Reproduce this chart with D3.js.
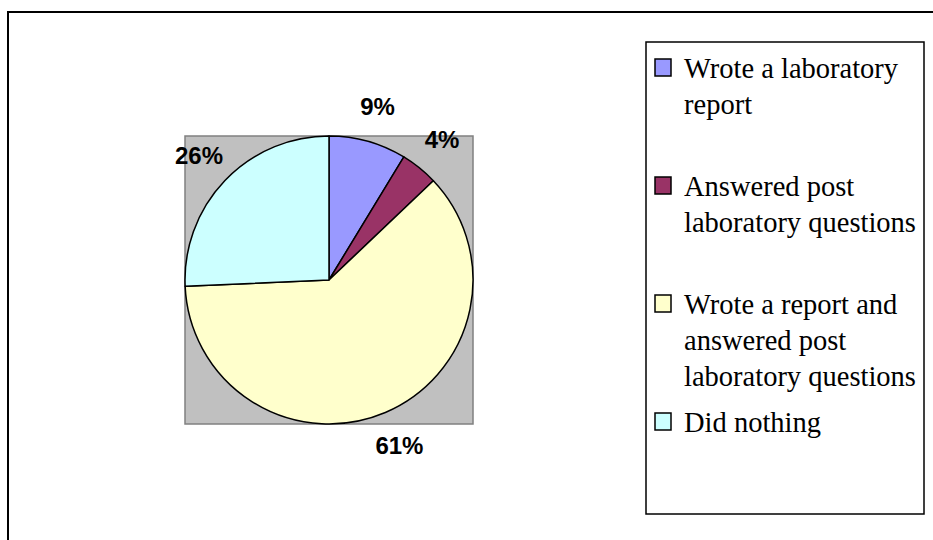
<!DOCTYPE html>
<html>
<head>
<meta charset="utf-8">
<script src="https://cdn.jsdelivr.net/npm/d3@7/dist/d3.min.js"></script>
<style>
  body { margin: 0; background: #fff; }
</style>
</head>
<body>
<div id="chart"></div>
<script>
// categories, values and colours
var categories = ['Wrote a laboratory report', 'Answered post laboratory questions',
    'Wrote a report and answered post laboratory questions', 'Did nothing'];
var legendLines = [
    ['Wrote a laboratory', 'report'],
    ['Answered post', 'laboratory questions'],
    ['Wrote a report and', 'answered post', 'laboratory questions'],
    ['Did nothing']
];
var values = [8.7, 4.2, 61.4, 25.7];
var colors = ['#9999FF', '#993366', '#FFFFCC', '#CCFFFF'];

var width = 933, height = 540;
var cx = 329, cy = 280, radius = 144;

var svg = d3.select('#chart')
    .append('svg')
    .attr('width', width)
    .attr('height', height);

// chart border (runs off the right and bottom edges)
svg.append('rect')
    .attr('x', 8)
    .attr('y', 12)
    .attr('width', 940)
    .attr('height', 560)
    .attr('fill', '#fff')
    .attr('stroke', '#000')
    .attr('stroke-width', 2);

// grey plot area behind the pie
svg.append('rect')
    .attr('x', cx - radius)
    .attr('y', cy - radius)
    .attr('width', radius * 2)
    .attr('height', radius * 2)
    .attr('fill', '#C0C0C0')
    .attr('stroke', '#808080')
    .attr('stroke-width', 1.5);

var total = d3.sum(values);
var pie = d3.pie().sort(null);
var arcs = pie(values);

var arc = d3.arc().innerRadius(0).outerRadius(radius);
var labelArc = d3.arc().innerRadius(180).outerRadius(180);

var g = svg.append('g')
    .attr('transform', 'translate(' + cx + ',' + cy + ')');

g.selectAll('path')
    .data(arcs)
    .enter()
    .append('path')
    .attr('d', arc)
    .attr('fill', function (d, i) { return colors[i]; })
    .attr('stroke', '#000')
    .attr('stroke-width', 1.5)
    .attr('stroke-linejoin', 'round');

g.selectAll('text')
    .data(arcs)
    .enter()
    .append('text')
    .attr('x', function (d) { return labelArc.centroid(d)[0]; })
    .attr('y', function (d) { return labelArc.centroid(d)[1]; })
    .attr('text-anchor', 'middle')
    .attr('dy', '0.35em')
    .style('font-family', '"Liberation Sans", Arial, sans-serif')
    .style('font-weight', 'bold')
    .style('font-size', '24px')
    .text(function (d) { return Math.round(d.value / total * 100) + '%'; });

// legend
svg.append('rect')
    .attr('x', 646)
    .attr('y', 42)
    .attr('width', 278)
    .attr('height', 472)
    .attr('fill', '#fff')
    .attr('stroke', '#000')
    .attr('stroke-width', 1.5);

var item = svg.selectAll('.legend-item')
    .data(categories)
    .enter()
    .append('g')
    .attr('class', 'legend-item')
    .attr('transform', function (d, i) { return 'translate(655,' + (78 + i * 118) + ')'; });

item.append('rect')
    .attr('x', 0)
    .attr('y', -19)
    .attr('width', 16)
    .attr('height', 17)
    .attr('fill', function (d, i) { return colors[i]; })
    .attr('stroke', '#000')
    .attr('stroke-width', 1.5);

item.append('text')
    .attr('x', 29)
    .style('font-family', '"Liberation Serif", "Times New Roman", serif')
    .style('font-size', '28.5px')
    .selectAll('tspan')
    .data(function (d, i) { return legendLines[i]; })
    .enter()
    .append('tspan')
    .attr('x', 29)
    .attr('y', function (d, j) { return j * 36; })
    .text(function (d) { return d; });
</script>
</body>
</html>
